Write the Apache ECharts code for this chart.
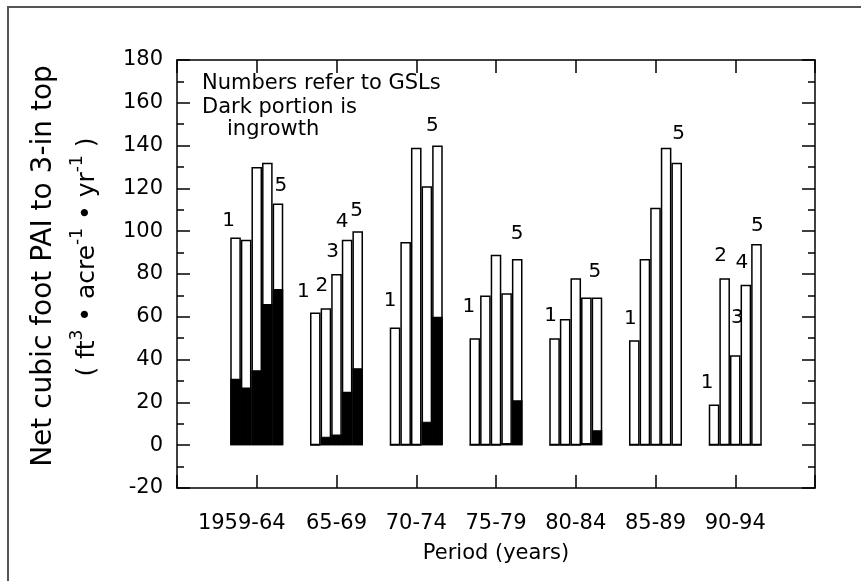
<!DOCTYPE html>
<html>
<head>
<meta charset="utf-8">
<script src="https://cdn.jsdelivr.net/npm/echarts@6/dist/echarts.min.js"></script>
<style>
  html, body { margin: 0; padding: 0; background: #fff; }
  #main { width: 861px; height: 581px; }
</style>
</head>
<body>
<div id="main"></div>
<script>
// periods on the x axis
var periods = ['1959-64', '65-69', '70-74', '75-79', '80-84', '85-89', '90-94'];

// total PAI per GSL (ft3/acre/yr)
var total1 = [97, 62, 55, 50, 50, 49, 19];
var total2 = [96, 64, 95, 70, 59, 87, 78];
var total3 = [130, 80, 139, 89, 78, 111, 42];
var total4 = [132, 96, 121, 71, 69, 139, 75];
var total5 = [113, 100, 140, 87, 69, 132, 94];

// ingrowth part (dark portion)
var ingrowth1 = [31, 0, 0, 0, 0, 0, 0];
var ingrowth2 = [27, 4, 0, 0, 0, 0, 0];
var ingrowth3 = [35, 5, 0, 0, 0, 0, 0];
var ingrowth4 = [66, 25, 11, 1, 1, 0, 0];
var ingrowth5 = [73, 36, 60, 21, 7, 0, 0];

// which GSL numbers are printed above the bars of each period
var shownLabels = [[1, 5], [1, 2, 3, 4, 5], [1, 5], [1, 5], [1, 5], [1, 5], [1, 2, 3, 4, 5]];

var yTicks = { min: -20, max: 180, step: 20 };

var totals = [total1, total2, total3, total4, total5];
var ingrowths = [ingrowth1, ingrowth2, ingrowth3, ingrowth4, ingrowth5];

var FONT = 'DejaVu Sans';

// small nudges for individual GSL labels, key = period-gsl
var labelNudge = {
  '1-1': [-3, 5], '1-5': [7, 4],
  '2-1': [-8, 1], '2-4': [-1, 4], '2-5': [3, 2],
  '3-1': [-1, -5], '3-5': [-1, 2],
  '4-1': [-2, -9], '4-5': [4, -3],
  '5-5': [2, -4],
  '6-5': [6, -7],
  '7-1': [-3, 0], '7-3': [6, -16], '7-5': [5, 4]
};

var myChart = echarts.init(document.getElementById('main'));

var series = [];
// whole bars (white) on the bottom axis
for (var g = 0; g < 5; g++) {
  (function (g) {
    series.push({
      name: 'GSL ' + (g + 1),
      type: 'bar',
      xAxisIndex: 0,
      barWidth: 10.6,
      barGap: '0%',
      itemStyle: { color: '#fff', borderColor: '#000', borderWidth: 1.5 },
      label: {
        show: false,
        position: 'top',
        distance: 12,
        color: '#000',
        fontFamily: FONT,
        fontSize: 20
      },
      data: periods.map(function (p, i) {
        var show = shownLabels[i].indexOf(g + 1) >= 0;
        var n = labelNudge[(i + 1) + '-' + (g + 1)] || [0, 0];
        return {
          value: [i + 1, totals[g][i]],
          label: {
            show: show,
            formatter: String(g + 1),
            offset: [-4 + n[0], n[1]]
          }
        };
      })
    });
  })(g);
}
// ingrowth (dark) drawn over the bottom of each bar, laid out on the top axis
for (var k = 0; k < 5; k++) {
  (function (g) {
    series.push({
      name: 'ingrowth ' + (g + 1),
      type: 'bar',
      xAxisIndex: 1,
      barWidth: 10.6,
      barGap: '0%',
      itemStyle: { color: '#000', borderColor: '#000', borderWidth: 1.2 },
      data: periods.map(function (p, i) { return [i + 1, ingrowths[g][i]]; })
    });
  })(k);
}

var axisLine = { show: true, onZero: false, lineStyle: { color: '#000', width: 1.5 } };
var tick = { inside: true, length: 13, lineStyle: { color: '#000', width: 1.5 } };
var minor = { show: true, splitNumber: 2, length: 7, lineStyle: { color: '#000', width: 1.5 } };

var option = {
  animation: false,
  backgroundColor: '#fff',
  grid: { left: 177, right: 46, top: 60, bottom: 93 },
  xAxis: [{
    type: 'value',
    min: 0,
    max: periods.length + 1,
    interval: 1,
    position: 'bottom',
    name: 'Period (years)',
    nameLocation: 'middle',
    nameGap: 55,
    nameTextStyle: { fontFamily: FONT, fontSize: 21, color: '#000' },
    axisLine: axisLine,
    axisTick: tick,
    axisLabel: {
      fontFamily: FONT, fontSize: 21, color: '#000', margin: 25,
      formatter: function (v) {
        var s = periods[v - 1] || '';
        // the first (longer) label sits a bit left of its tick
        return v === 1 ? '{first|' + s + '}' : s;
      },
      rich: {
        first: { fontFamily: FONT, fontSize: 21, color: '#000', padding: [0, 30, 0, 0] }
      }
    },
    splitLine: { show: false }
  }, {
    type: 'value',
    min: 0,
    max: periods.length + 1,
    interval: 1,
    position: 'top',
    axisLine: axisLine,
    axisTick: tick,
    axisLabel: { show: false },
    splitLine: { show: false }
  }],
  yAxis: [{
    type: 'value',
    min: yTicks.min,
    max: yTicks.max,
    interval: yTicks.step,
    position: 'left',
    axisLine: axisLine,
    axisTick: tick,
    minorTick: minor,
    axisLabel: { fontFamily: FONT, fontSize: 21, color: '#000', margin: 14 },
    splitLine: { show: false }
  }, {
    type: 'value',
    min: yTicks.min,
    max: yTicks.max,
    interval: yTicks.step,
    position: 'right',
    axisLine: axisLine,
    axisTick: tick,
    minorTick: minor,
    axisLabel: { show: false },
    splitLine: { show: false }
  }],
  graphic: [
    // outer frame of the figure
    { type: 'rect', shape: { x: 8, y: 7, width: 900, height: 700 },
      style: { fill: 'none', stroke: '#555', lineWidth: 2 }, silent: true },
    // y axis title, two lines
    { type: 'text', x: 44, y: 266, rotation: Math.PI / 2,
      style: { text: 'Net cubic foot PAI to 3-in top', font: '28px "DejaVu Sans"',
        fill: '#000', align: 'center', verticalAlign: 'middle' } },
    { type: 'text', x: 87, y: 257, rotation: Math.PI / 2,
      style: {
        text: '{a|( ft}{s|3}{a| • acre}{s|-1}{a| • yr}{s|-1}{a| )}',
        align: 'center', verticalAlign: 'middle',
        rich: {
          a: { fontFamily: FONT, fontSize: 25, lineHeight: 36, fill: '#000' },
          s: { fontFamily: FONT, fontSize: 17, verticalAlign: 'top', fill: '#000' }
        }
      } },
    // note in the plot corner
    { type: 'text', left: 202, top: 73,
      style: { text: 'Numbers refer to GSLs', font: '21px "DejaVu Sans"', fill: '#000' } },
    { type: 'text', left: 202, top: 97,
      style: { text: 'Dark portion is', font: '21px "DejaVu Sans"', fill: '#000' } },
    { type: 'text', left: 227, top: 119,
      style: { text: 'ingrowth', font: '21px "DejaVu Sans"', fill: '#000' } }
  ],
  series: series
};

myChart.setOption(option);
</script>
</body>
</html>
